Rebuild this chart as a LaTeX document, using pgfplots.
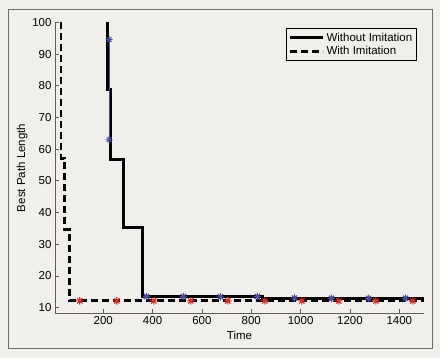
\documentclass[border=0pt]{standalone}
\usepackage{pgfplots}
\pgfplotsset{compat=1.18}
\usepackage{fontspec}
\setmainfont{Liberation Sans}
\definecolor{bgc}{RGB}{241,239,236}
\definecolor{framec}{RGB}{110,108,106}
\definecolor{axc}{RGB}{95,92,90}
\definecolor{mblue}{RGB}{72,78,156}
\definecolor{mred}{RGB}{216,48,42}
\pgfdeclareplotmark{mstar}{%
  \pgfpathmoveto{\pgfqpoint{-\pgfplotmarksize}{0pt}}\pgfpathlineto{\pgfqpoint{\pgfplotmarksize}{0pt}}%
  \pgfpathmoveto{\pgfqpoint{0pt}{-\pgfplotmarksize}}\pgfpathlineto{\pgfqpoint{0pt}{\pgfplotmarksize}}%
  \pgfpathmoveto{\pgfqpoint{-0.707\pgfplotmarksize}{-0.707\pgfplotmarksize}}\pgfpathlineto{\pgfqpoint{0.707\pgfplotmarksize}{0.707\pgfplotmarksize}}%
  \pgfpathmoveto{\pgfqpoint{-0.707\pgfplotmarksize}{0.707\pgfplotmarksize}}\pgfpathlineto{\pgfqpoint{0.707\pgfplotmarksize}{-0.707\pgfplotmarksize}}%
  \pgfusepathqstroke}
\begin{document}
\begin{tikzpicture}[font=\fontsize{11.5bp}{13bp}\selectfont]
\fill[bgc] (0,0) rectangle (440bp,358bp);
\draw[framec, line width=1bp] (8bp,9bp) rectangle (432bp,348bp);
\begin{axis}[
  at={(55bp,44.7bp)}, anchor=south west,
  scale only axis, width=369bp, height=290.8bp,
  xmin=4.6, xmax=1500, ymin=8.2, ymax=100,
  axis x line*=bottom, axis y line*=left,
  axis line style={axc, line width=0.8bp},
  tick style={axc, line width=0.8bp},
  tick align=inside, major tick length=4bp,
  xtick={200,400,...,1400}, ytick={10,20,...,100},
  /pgf/number format/assume math mode=true,
  /pgf/number format/1000 sep={},
  ticklabel style={font=\fontsize{11.5bp}{13bp}\selectfont, black},
  xlabel={Time}, ylabel={Best Path Length},
  xlabel style={yshift=1bp},
  ylabel style={yshift=-2bp},
  clip=false,
  legend cell align=left,
  legend style={at={(0.98,0.98)}, anchor=north east, draw=black, line width=0.8bp,
    fill=bgc, font=\fontsize{11.5bp}{13bp}\selectfont, inner sep=2bp, row sep=0bp},
  legend image code/.code={\draw[#1] (0bp,0bp) -- (33bp,0bp);},
]
\addplot[black, line width=2.8bp, line join=miter] coordinates {
 (217.7,100) (217.7,78.8) (231,78.8) (231,56.7) (281,56.7) (281,35.3)
 (358,35.3) (358,13.5) (847,13.5) (847,12.9) (1500,12.9)};
\addlegendentry{Without Imitation}
\addplot[black, line width=2.9bp, dash pattern=on 7bp off 4bp] coordinates {
 (28.9,100) (28.9,57.2) (42,57.2) (42,34.6) (62,34.6) (62,12.1) (1500,12.1)};
\addlegendentry{With Imitation}
\addplot[mblue, line width=0.9bp, mark=mstar, mark size=3.5bp, mark options={line width=0.9bp}, forget plot] coordinates {
 (224,94.6) (224,63)};
\addplot[only marks, mred, mark=mstar, mark size=3.7bp, mark options={line width=1.1bp}, forget plot] coordinates {
 (105,12.1) (255,12.1) (405,12.1) (555,12.1) (705,12.1) (855,12.1) (1005,12.1) (1155,12.1) (1305,12.1) (1455,12.1)};
\addplot[only marks, mblue, mark=mstar, mark size=3.7bp, mark options={line width=1.1bp}, forget plot] coordinates {
 (375,13.5) (525,13.5) (675,13.4) (825,13.5) (975,13.0) (1125,12.9) (1275,12.9) (1425,12.9)};
\end{axis}
\end{tikzpicture}
\end{document}
